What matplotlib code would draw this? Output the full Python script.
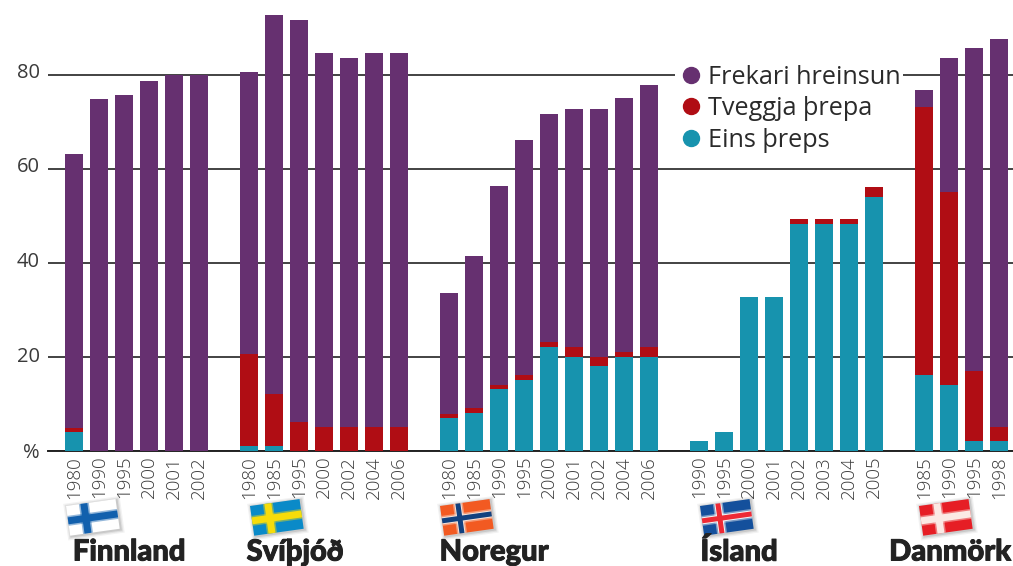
import numpy as np
import matplotlib
matplotlib.use("Agg")
import matplotlib.pyplot as plt
import matplotlib.patheffects as pe
from matplotlib.lines import Line2D
from matplotlib.patches import Polygon
from matplotlib.transforms import Affine2D, ScaledTranslation

countries = ["Finnland", "Svíþjóð", "Noregur", "Ísland", "Danmörk"]
years = [
    [1980, 1990, 1995, 2000, 2001, 2002],
    [1980, 1985, 1995, 2000, 2002, 2004, 2006],
    [1980, 1985, 1990, 1995, 2000, 2001, 2002, 2004, 2006],
    [1990, 1995, 2000, 2001, 2002, 2003, 2004, 2005],
    [1985, 1990, 1995, 1998],
]
# eins þreps
eins = [
    [4, 0, 0, 0, 0, 0],
    [1, 1, 0, 0, 0, 0, 0],
    [7, 8, 13, 15, 22, 20, 18, 20, 20],
    [2, 4, 32.7, 32.7, 48.2, 48.2, 48.2, 54],
    [16, 14, 2, 2],
]
# tveggja þrepa
tveggja = [
    [0.8, 0, 0, 0, 0, 0],
    [19.6, 11, 6, 5, 5, 5, 5],
    [0.7, 1, 1, 1, 1, 2, 2, 1, 2],
    [0, 0, 0, 0, 1, 1, 1, 2],
    [57, 41, 15, 3],
]
# frekari hreinsun
frekari = [
    [58.2, 74.8, 75.6, 78.6, 80, 80],
    [59.9, 80.7, 85.6, 79.5, 78.5, 79.5, 79.5],
    [25.8, 32.3, 42.2, 50, 48.7, 50.7, 52.7, 54, 55.7],
    [0, 0, 0, 0, 0, 0, 0, 0],
    [3.7, 28.5, 68.7, 82.5],
]

PURPLE = "#663070"
RED = "#B00D14"
TEAL = "#1793AE"
TEXT = "#3a3a3a"

plt.rcParams["font.family"] = ["Open Sans", "DejaVu Sans"]

W, H = 1013, 566
fig = plt.figure(figsize=(W / 100, H / 100), dpi=100)

# axes placed in pixels, baseline at y=450.5 and 4.7 px per unit
ax = fig.add_axes([48 / W, (H - 450.5) / H, (W - 48) / W, 450.5 / H])
ax.set_xlim(-1.05, 37.55)
ax.set_ylim(0, 450.5 / 4.7)

# one empty slot between countries
x = []
labels = []
pos = 0
for yrs in years:
    for y in yrs:
        x.append(pos)
        labels.append(str(y))
        pos += 1
    pos += 1

a = np.array(sum(eins, []))
b = np.array(sum(tveggja, []))
c = np.array(sum(frekari, []))

ax.bar(x, a, width=0.72, color=TEAL, zorder=3)
ax.bar(x, b, width=0.72, bottom=a, color=RED, zorder=3)
ax.bar(x, c, width=0.72, bottom=a + b, color=PURPLE, zorder=3)

ax.set_yticks([0, 20, 40, 60, 80])
ax.set_yticklabels(["%", "20", "40", "60", "80"], fontsize=14.5, color=TEXT)
ax.set_xticks(x)
ax.set_xticklabels(labels, rotation=90, fontsize=13.5, color=TEXT, fontweight="light")
ax.tick_params(axis="both", length=0)
ax.tick_params(axis="x", pad=3.8)
ax.tick_params(axis="y", pad=6)
ax.grid(axis="y", color="#222222", lw=1.2, zorder=1)
ax.set_axisbelow(True)
for s in ["top", "right", "left"]:
    ax.spines[s].set_visible(False)
ax.spines["bottom"].set_color("#222222")
ax.spines["bottom"].set_linewidth(1.4)

# the numbers sit a little above their lines in the original
for lab, up in zip(ax.get_yticklabels(), [0, 2, 3, 3.5, 4.5]):
    lab.set_transform(lab.get_transform() + ScaledTranslation(0, up / 100, fig.dpi_scale_trans))

handles = [
    Line2D([], [], ls="", marker="o", ms=11.5, color=PURPLE, label="Frekari hreinsun"),
    Line2D([], [], ls="", marker="o", ms=11.5, color=RED, label="Tveggja þrepa"),
    Line2D([], [], ls="", marker="o", ms=11.5, color=TEAL, label="Eins þreps"),
]
leg = ax.legend(handles=handles, loc="upper left", bbox_to_anchor=(675 / W, (H - 62) / H),
                bbox_transform=fig.transFigure, fontsize=18.2, frameon=True, facecolor="white",
                edgecolor="none", framealpha=1, fancybox=False, borderpad=0.1, borderaxespad=0,
                labelspacing=0.26, handletextpad=0.1, handlelength=1.1, labelcolor="#2a2a2a")
leg.set_zorder(2)

# overlay in pixel coordinates for the flags and the country names
over = fig.add_axes([0, 0, 1, 1], zorder=5)
over.set_xlim(0, W)
over.set_ylim(H, 0)
over.axis("off")
over.patch.set_alpha(0)


def rect(x0, y0, x1, y1):
    return [[x0, y0], [x1, y0], [x1, y1], [x0, y1]]


def draw_flag(px, py, bg, cross, inner=None):
    tr = Affine2D().rotate_deg(-8).translate(px, py) + over.transData
    # soft shadow
    for grow, alpha in [(3.5, 0.05), (2.2, 0.07), (1, 0.1)]:
        over.add_patch(Polygon(rect(-grow + 1, -grow + 1, 50 + grow + 1, 30 + grow + 1), color="black",
                               alpha=alpha, lw=0, transform=tr, zorder=1))
    over.add_patch(Polygon(rect(0, 0, 50, 30), color=bg, lw=0, transform=tr, zorder=2))
    # wider faint strips first, the scan has blurry edges
    over.add_patch(Polygon(rect(0, 10, 50, 20), color=cross, alpha=0.45, lw=0, transform=tr, zorder=3))
    over.add_patch(Polygon(rect(13, 0, 23, 30), color=cross, alpha=0.45, lw=0, transform=tr, zorder=3))
    over.add_patch(Polygon(rect(0, 11.5, 50, 18.5), color=cross, lw=0, transform=tr, zorder=3))
    over.add_patch(Polygon(rect(14.5, 0, 21.5, 30), color=cross, lw=0, transform=tr, zorder=3))
    if inner:
        over.add_patch(Polygon(rect(0, 12.5, 50, 17.5), color=inner, lw=0, transform=tr, zorder=3))
        over.add_patch(Polygon(rect(15.5, 0, 20.5, 30), color=inner, lw=0, transform=tr, zorder=3))


draw_flag(66, 506, "#ffffff", "#1260ad")
draw_flag(250, 506, "#0a8ac8", "#f7dc0a")
draw_flag(440, 506, "#f25a22", "#f7e4da", "#12417f")
draw_flag(700, 506, "#14509c", "#f5f5f5", "#ee2a35")
draw_flag(919, 506, "#e61e25", "#fbe9e4")

name_x = [129, 295, 494, 739, 950]
for name, nx_ in zip(countries, name_x):
    over.text(nx_, 552.5, name, ha="center", va="center", fontsize=21, fontweight="black",
              family=["Lato", "DejaVu Sans"], color="#222222", zorder=4,
              path_effects=[pe.withStroke(linewidth=0.7, foreground="#222222")])

fig.savefig("out.png", dpi=100)
